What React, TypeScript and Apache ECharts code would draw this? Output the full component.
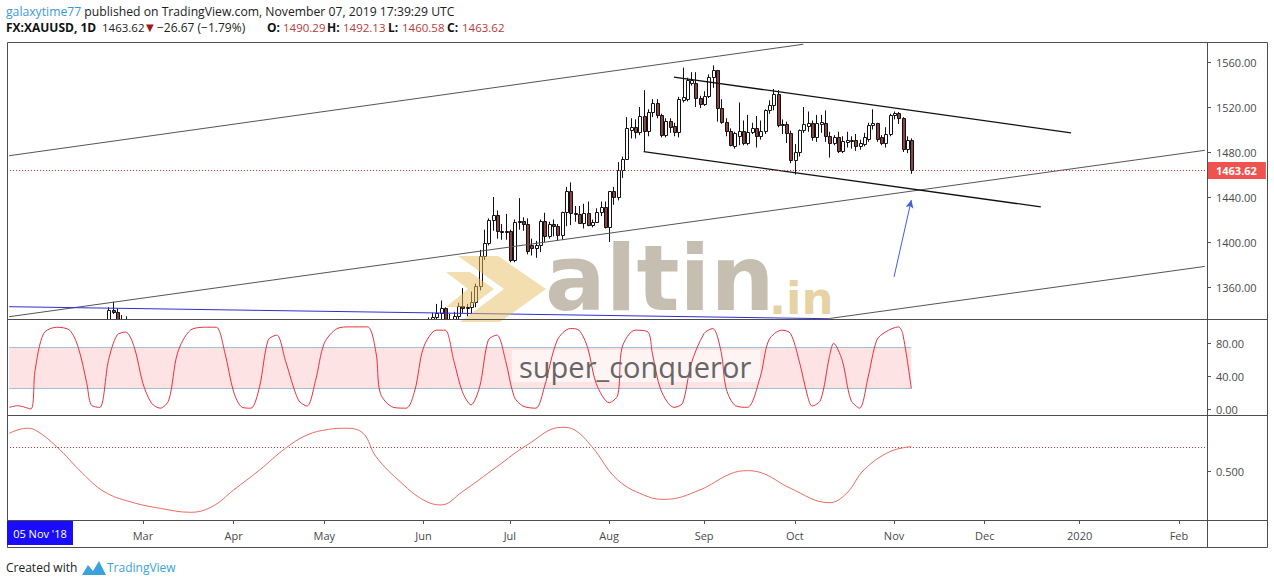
import React, { useEffect, useRef } from "react";
import * as echarts from "echarts";

// ---------- categories (trading days) ----------
const FIRST_DAY = "2019-01-17";
const LAST_DAY = "2020-02-11";
const HOLIDAYS = ["2019-04-19"];
const LABEL_FROM = "2019-03";
const MONTHS = ["Jan", "Feb", "Mar", "Apr", "May", "Jun", "Jul", "Aug", "Sep", "Oct", "Nov", "Dec"];

// ---------- OHLC [open, high, low, close] ----------
const ohlcJan = [
  [1293, 1296, 1287, 1292], [1292, 1297, 1280, 1282], [1282, 1284, 1277, 1280], [1280, 1286, 1276, 1283],
  [1283, 1285, 1278, 1282], [1282, 1284, 1276, 1280], [1280, 1303, 1278, 1298], [1298, 1305, 1296, 1303],
  [1303, 1313, 1302, 1311], [1311, 1321, 1308, 1319], [1319, 1326, 1312, 1321],
];
const ohlcFeb = [
  [1321, 1325, 1310, 1317], [1317, 1318, 1307, 1311], [1311, 1317, 1307, 1314], [1314, 1315, 1304, 1306],
  [1306, 1313, 1302, 1309], [1309, 1317, 1307, 1314], [1314, 1314, 1302, 1308], [1308, 1314, 1306, 1311],
  [1311, 1316, 1303, 1306], [1306, 1316, 1302, 1314], [1314, 1323, 1310, 1322], [1322, 1329, 1319, 1327],
  [1327, 1342, 1322, 1340], [1340, 1347, 1336, 1338], [1338, 1341, 1320, 1324], [1324, 1335, 1322, 1329],
  [1329, 1334, 1320, 1328], [1328, 1330, 1318, 1328], [1328, 1329, 1316, 1319], [1319, 1321, 1310, 1313],
];
const ohlcMar = [
  [1313, 1314, 1290, 1293], [1293, 1296, 1281, 1287], [1287, 1290, 1280, 1286], [1286, 1290, 1282, 1286],
  [1286, 1290, 1280, 1286], [1286, 1300, 1284, 1299], [1299, 1299, 1287, 1291], [1291, 1299, 1289, 1297],
  [1297, 1311, 1296, 1309], [1309, 1310, 1293, 1295], [1295, 1304, 1294, 1302], [1302, 1306, 1298, 1301],
  [1301, 1309, 1299, 1306], [1306, 1314, 1298, 1313], [1313, 1320, 1302, 1307], [1307, 1316, 1303, 1313],
  [1313, 1324, 1311, 1322], [1322, 1323, 1311, 1314], [1314, 1317, 1307, 1310], [1310, 1311, 1288, 1290],
  [1290, 1297, 1286, 1292],
];
const ohlcApr = [
  [1292, 1293, 1285, 1287], [1287, 1293, 1284, 1291], [1291, 1296, 1286, 1292], [1292, 1295, 1286, 1291],
  [1291, 1296, 1285, 1292], [1292, 1301, 1290, 1299], [1299, 1307, 1297, 1303], [1303, 1310, 1301, 1307],
  [1307, 1308, 1290, 1293], [1293, 1297, 1288, 1290], [1290, 1295, 1286, 1288], [1288, 1289, 1273, 1275],
  [1275, 1278, 1270, 1273], [1273, 1278, 1266, 1276], [1276, 1279, 1271, 1274], [1274, 1276, 1266, 1272],
  [1272, 1278, 1269, 1276], [1276, 1281, 1272, 1279], [1279, 1289, 1274, 1286], [1286, 1286, 1278, 1280],
  [1280, 1287, 1278, 1283],
];
const ohlcMay = [
  [1283, 1286, 1271, 1277], [1277, 1279, 1267, 1270], [1270, 1282, 1268, 1279], [1279, 1283, 1274, 1281],
  [1281, 1287, 1279, 1285], [1285, 1287, 1279, 1281], [1281, 1288, 1279, 1284], [1284, 1290, 1281, 1286],
  [1286, 1302, 1283, 1301], [1301, 1303, 1294, 1296], [1296, 1300, 1292, 1297], [1297, 1298, 1284, 1286],
  [1286, 1288, 1275, 1277], [1277, 1280, 1274, 1277], [1277, 1278, 1270, 1273], [1273, 1277, 1271, 1274],
  [1274, 1286, 1272, 1283], [1283, 1287, 1281, 1285], [1285, 1286, 1282, 1284], [1284, 1285, 1274, 1278],
  [1278, 1284, 1277, 1280], [1280, 1290, 1278, 1287], [1287, 1306, 1284, 1305],
];
const ohlcJun = [
  [1305, 1329, 1304, 1327], [1327, 1333, 1320, 1325], [1325, 1337, 1321, 1333], [1333, 1345, 1328, 1337],
  [1337, 1348, 1330, 1341], [1341, 1342, 1323, 1327], [1327, 1336, 1320, 1327], [1327, 1338, 1326, 1334],
  [1334, 1346, 1330, 1343], [1343, 1359, 1337, 1341], [1341, 1345, 1334, 1342], [1342, 1356, 1336, 1347],
  [1347, 1363, 1342, 1361], [1361, 1393, 1357, 1388], [1388, 1411, 1384, 1399], [1399, 1421, 1397, 1420],
  [1420, 1440, 1410, 1424], [1424, 1428, 1403, 1410], [1410, 1416, 1402, 1409], [1409, 1425, 1402, 1410],
];
const ohlcJul = [
  [1410, 1411, 1382, 1384], [1384, 1420, 1382, 1418], [1418, 1439, 1411, 1419], [1419, 1422, 1410, 1416],
  [1416, 1421, 1389, 1392], [1397, 1403, 1388, 1395], [1395, 1401, 1386, 1397], [1397, 1420, 1391, 1419],
  [1419, 1426, 1400, 1405], [1405, 1418, 1403, 1416], [1416, 1420, 1405, 1414], [1414, 1416, 1401, 1406],
  [1406, 1427, 1402, 1427], [1427, 1449, 1414, 1445], [1445, 1453, 1415, 1426], [1426, 1432, 1418, 1425],
  [1425, 1432, 1416, 1417], [1417, 1434, 1412, 1426], [1426, 1436, 1414, 1415], [1415, 1420, 1413, 1418],
  [1418, 1430, 1417, 1427], [1427, 1436, 1423, 1431], [1431, 1436, 1412, 1413],
];
const ohlcAug = [
  [1413, 1445, 1400, 1445], [1445, 1449, 1433, 1440], [1440, 1471, 1437, 1464], [1464, 1476, 1457, 1474],
  [1474, 1511, 1474, 1501], [1500, 1510, 1492, 1502], [1502, 1509, 1492, 1498], [1498, 1520, 1495, 1512],
  [1512, 1535, 1480, 1499], [1499, 1518, 1494, 1516], [1516, 1527, 1511, 1524], [1524, 1527, 1510, 1513],
  [1513, 1514, 1493, 1495], [1495, 1510, 1493, 1508], [1508, 1510, 1497, 1502], [1503, 1506, 1494, 1498],
  [1498, 1529, 1493, 1527], [1526, 1555, 1524, 1529], [1527, 1546, 1525, 1544], [1541, 1551, 1539, 1544],
  [1541, 1551, 1520, 1528], [1528, 1530, 1519, 1523],
];
const ohlcSep = [
  [1523, 1534, 1521, 1530], [1530, 1549, 1528, 1547], [1547, 1557, 1537, 1553], [1553, 1553, 1507, 1519],
  [1519, 1527, 1505, 1507], [1507, 1510, 1494, 1499], [1499, 1501, 1485, 1486], [1485, 1498, 1483, 1497],
  [1494, 1524, 1486, 1499], [1499, 1508, 1486, 1488], [1488, 1513, 1486, 1498], [1498, 1506, 1496, 1501],
  [1501, 1512, 1484, 1494], [1494, 1508, 1491, 1499], [1499, 1518, 1496, 1517], [1517, 1526, 1514, 1522],
  [1522, 1536, 1517, 1532], [1532, 1535, 1502, 1504], [1504, 1509, 1496, 1505], [1505, 1507, 1488, 1497],
  [1497, 1499, 1470, 1473],
];
const ohlcOct = [
  [1473, 1487, 1460, 1480], [1480, 1500, 1476, 1500], [1500, 1520, 1497, 1505], [1503, 1516, 1498, 1506],
  [1506, 1508, 1490, 1493], [1493, 1513, 1489, 1506], [1505, 1513, 1497, 1507], [1506, 1517, 1489, 1494],
  [1494, 1498, 1475, 1488], [1488, 1495, 1486, 1493], [1493, 1498, 1479, 1481], [1481, 1494, 1479, 1490],
  [1489, 1498, 1484, 1491], [1490, 1494, 1483, 1491], [1491, 1496, 1481, 1485], [1485, 1491, 1482, 1488],
  [1487, 1497, 1485, 1493], [1492, 1506, 1489, 1504], [1504, 1518, 1500, 1505.5], [1505.5, 1506, 1489, 1492],
  [1493, 1495, 1486, 1488], [1488, 1502, 1484, 1496], [1496, 1514, 1494, 1513],
];
const ohlcNov = [
  [1512.6, 1516, 1509, 1514.4], [1515, 1515.5, 1505, 1510], [1510, 1511, 1480, 1483], [1483, 1494, 1479, 1491],
  [1490.29, 1492.13, 1460.58, 1463.62],
];

// ---------- oscillators [bar index, value] ----------
const stochPoints = [
  [0, 2], [2, 4], [5, 0], [6, 47], [8, 92], [11, 99.5], [14, 96], [16, 75], [18, 31], [19, 5], [21, 2],
  [23, 59], [25, 90], [27, 93.7], [29, 75], [31, 31], [33, 7], [35, 1], [37, 11], [39, 68], [42, 96],
  [46, 99.6], [48, 99.6], [50, 68], [52, 21], [54, 2], [56, 1], [58, 27], [60, 84], [62, 90], [64, 59],
  [67, 11], [69, 3.6], [71, 35], [73, 80], [76, 98], [79, 100], [83, 100], [85, 68], [86, 19], [89, 2],
  [92, 1], [94, 23], [96, 75], [99, 96], [101, 96], [103, 59], [105, 21], [107, 5], [109, 27], [111, 84],
  [113, 90], [115, 59], [117, 15], [119, 3.6], [122, 1], [124, 27], [127, 84], [130, 98], [132, 96],
  [134, 75], [136, 31], [139, 7.7], [141, 17], [142, 75], [145, 96], [148, 93.7], [149, 68], [151, 23],
  [154, 2], [156, 7], [158, 55], [161, 92], [163, 98], [165, 68], [166, 27], [168, 5], [171, 2], [174, 39],
  [176, 84], [179, 96], [181, 92], [183, 59], [185, 15], [186, 3.6], [188, 11], [190, 63], [191, 80],
  [193, 59], [195, 11], [197, 1], [199, 39], [201, 84], [203, 93.7], [206, 100], [207, 92], [209, 25],
];
const stochBand = [25, 75];
const cyclePoints = [
  [0, 0.814], [4, 0.856], [6, 0.842], [11, 0.703], [17, 0.481], [22, 0.328], [28, 0.244], [35, 0.189],
  [42, 0.156], [47, 0.203], [52, 0.342], [58, 0.508], [64, 0.689], [69, 0.8], [74, 0.847], [78, 0.856],
  [82, 0.814], [85, 0.619], [91, 0.397], [96, 0.258], [100, 0.217], [105, 0.328], [113, 0.536], [120, 0.717],
  [128, 0.864], [131, 0.842], [135, 0.703], [141, 0.425], [148, 0.286], [152, 0.264], [160, 0.342],
  [167, 0.475], [171, 0.503], [175, 0.475], [181, 0.356], [190, 0.236], [194, 0.314], [198, 0.508],
  [204, 0.661], [209, 0.703],
];
const cycleLevel = 0.7;

// ---------- drawings [bar index, price] ----------
const channelUpper = [[0, 1476.7], [184, 1575.8]];
const channelMiddle = [[0, 1333.6], [277, 1481.5]];
const channelLower = [[190, 1332], [277, 1378.3]];
const blueLine = [[0, 1342.5], [190, 1331.8]];
const descTop = [[154, 1546.6], [246, 1497.0]];
const descBottom = [[147, 1480.4], [239, 1431.2]];
const arrowFrom = [205, 1369];
const arrowTo = [209, 1437.3];

// ---------- axis ticks ----------
const priceTicks = [1360, 1400, 1440, 1480, 1520, 1560];
const stochTicks = [0, 40, 80];
const cycleTicks = [0.5];

function buildDays(): string[] {
  const out: string[] = [];
  const [y0, m0, d0] = FIRST_DAY.split("-").map(Number);
  const [y1, m1, d1] = LAST_DAY.split("-").map(Number);
  const d = new Date(Date.UTC(y0, m0 - 1, d0));
  const end = Date.UTC(y1, m1 - 1, d1);
  while (d.getTime() <= end) {
    const wd = d.getUTCDay();
    const s = d.toISOString().slice(0, 10);
    if (wd !== 0 && wd !== 6 && HOLIDAYS.indexOf(s) < 0) out.push(s);
    d.setUTCDate(d.getUTCDate() + 1);
  }
  return out;
}

export default function App() {
  const ref = useRef<HTMLDivElement>(null);
  useEffect(() => {
    if (!ref.current) return;
    const chart = echarts.init(ref.current, null, { renderer: "svg" });
    const days = buildDays();
    const ohlc = [...ohlcJan, ...ohlcFeb, ...ohlcMar, ...ohlcApr, ...ohlcMay, ...ohlcJun, ...ohlcJul, ...ohlcAug, ...ohlcSep, ...ohlcOct, ...ohlcNov];
    const candleData = ohlc.map((d, i) => [i, d[0], d[1], d[2], d[3]]);
    const lastClose = ohlc[ohlc.length - 1][3];
    const lastIdx = ohlc.length - 1;
    const isMonthStart = (i: number) =>
      i > 0 && days[i].slice(0, 7) !== days[i - 1].slice(0, 7) && days[i].slice(0, 7) >= LABEL_FROM;
    const fontFamily = "'Open Sans', 'DejaVu Sans', sans-serif";
    const axisText = { color: "#4a4a4a", fontSize: 11, fontFamily };

    const trend = (pts: number[][], color: string, width: number) => ({
      type: "line",
      xAxisIndex: 0,
      yAxisIndex: 0,
      data: pts,
      symbol: "none",
      silent: true,
      z: 4,
      lineStyle: { color, width },
    });

    const yBase = {
      position: "right",
      axisLine: { show: false },
      splitLine: { show: false },
    };

    const renderCandle = (_params: any, api: any) => {
      const i = api.value(0);
      const o = api.value(1);
      const h = api.value(2);
      const l = api.value(3);
      const c = api.value(4);
      const pO = api.coord([i, o]);
      const pC = api.coord([i, c]);
      const pH = api.coord([i, h]);
      const pL = api.coord([i, l]);
      const cx = Math.round(pO[0]);
      const top = Math.round(Math.min(pO[1], pC[1])) + 0.5;
      const bot = Math.round(Math.max(pO[1], pC[1])) + 0.5;
      const up = c >= o;
      return {
        type: "group",
        children: [
          { type: "line", shape: { x1: cx + 0.5, y1: pH[1], x2: cx + 0.5, y2: pL[1] }, style: { stroke: "#111", lineWidth: 1 } },
          {
            type: "rect",
            shape: { x: cx - 0.5, y: top, width: 3, height: Math.max(bot - top, 1) },
            style: { fill: up ? "#ffffff" : "#8b4444", stroke: "#111", lineWidth: 1 },
          },
        ],
      };
    };

    const option: any = {
      animation: false,
      backgroundColor: "#ffffff",
      grid: [
        { left: 7, top: 42, width: 1200, height: 277 },
        { left: 7, top: 319, width: 1200, height: 96 },
        { left: 7, top: 415, width: 1200, height: 105 },
      ],
      xAxis: [0, 1, 2].map((g) => ({
        type: "category",
        gridIndex: g,
        data: days,
        boundaryGap: true,
        axisLine: { show: false },
        splitLine: { show: false },
        axisTick:
          g === 2
            ? { show: true, interval: (i: number) => isMonthStart(i), alignWithLabel: true, length: 4, lineStyle: { color: "#555" } }
            : { show: false },
        axisLabel:
          g === 2
            ? {
                show: true,
                interval: (i: number) => isMonthStart(i),
                margin: 10,
                ...axisText,
                formatter: (v: string) => {
                  const m = Number(v.slice(5, 7));
                  return m === 1 ? v.slice(0, 4) : MONTHS[m - 1];
                },
              }
            : { show: false },
      })),
      yAxis: [
        {
          ...yBase,
          gridIndex: 0,
          min: 1331.56,
          max: 1577.78,
          axisTick: { show: true, customValues: priceTicks, length: 4, lineStyle: { color: "#555" } },
          axisLabel: { customValues: priceTicks, margin: 9, ...axisText, formatter: (v: number) => v.toFixed(2) },
        },
        {
          ...yBase,
          gridIndex: 1,
          min: -7.3,
          max: 109.6,
          axisTick: { show: true, customValues: stochTicks, length: 4, lineStyle: { color: "#555" } },
          axisLabel: { customValues: stochTicks, margin: 9, ...axisText, formatter: (v: number) => v.toFixed(2) },
        },
        {
          ...yBase,
          gridIndex: 2,
          min: 0.0917,
          max: 0.9667,
          axisTick: { show: true, customValues: cycleTicks, length: 4, lineStyle: { color: "#555" } },
          axisLabel: { customValues: cycleTicks, margin: 9, ...axisText, formatter: (v: number) => v.toFixed(3) },
        },
      ],
      series: [
        {
          type: "custom",
          xAxisIndex: 0,
          yAxisIndex: 0,
          data: candleData,
          encode: { x: 0, y: [1, 2, 3, 4] },
          renderItem: renderCandle,
          clip: true,
          silent: true,
          z: 3,
        },
        {
          type: "line",
          xAxisIndex: 0,
          yAxisIndex: 0,
          data: [],
          z: 4,
          silent: true,
          markLine: {
            silent: true,
            symbol: "none",
            data: [
              {
                yAxis: lastClose,
                lineStyle: { color: "#c73535", type: [1, 2], width: 1 },
                label: {
                  show: true,
                  position: "end",
                  distance: 1,
                  formatter: lastClose.toFixed(2),
                  color: "#ffffff",
                  fontWeight: "bold",
                  fontSize: 11,
                  fontFamily,
                  backgroundColor: "#ef5350",
                  padding: [3, 9, 3, 8],
                },
              },
              [
                { coord: [days[arrowFrom[0]], arrowFrom[1]], symbol: "none" },
                {
                  coord: [days[arrowTo[0]], arrowTo[1]],
                  symbol: "arrow",
                  symbolSize: [6, 8],
                  lineStyle: { color: "#3f5fe0", width: 1, type: "solid" },
                  label: { show: false },
                },
              ],
            ],
          },
        },
        trend(channelUpper, "#555555", 1),
        trend(channelMiddle, "#555555", 1),
        trend(channelLower, "#555555", 1),
        trend(blueLine, "#2f2fd0", 1),
        trend(descTop, "#111111", 1.3),
        trend(descBottom, "#111111", 1.3),
        {
          type: "line",
          xAxisIndex: 1,
          yAxisIndex: 1,
          data: [],
          z: 1,
          silent: true,
          markArea: {
            silent: true,
            itemStyle: { color: "#fde3e4" },
            data: [[{ coord: [0, stochBand[1]] }, { coord: [lastIdx, stochBand[0]] }]],
          },
          markLine: {
            silent: true,
            symbol: "none",
            label: { show: false },
            lineStyle: { color: "#a3bfd3", type: "solid", width: 1 },
            data: stochBand.map((v) => [{ coord: [0, v] }, { coord: [lastIdx, v] }]),
          },
        },
        {
          type: "line",
          xAxisIndex: 1,
          yAxisIndex: 1,
          data: stochPoints,
          smooth: 0.3,
          symbol: "none",
          z: 5,
          lineStyle: { color: "#e5323c", width: 1 },
        },
        {
          type: "line",
          xAxisIndex: 2,
          yAxisIndex: 2,
          data: cyclePoints,
          smooth: 0.4,
          symbol: "none",
          z: 5,
          lineStyle: { color: "#eb6a60", width: 1 },
          markLine: {
            silent: true,
            symbol: "none",
            label: { show: false },
            data: [{ yAxis: cycleLevel, lineStyle: { color: "#c73535", type: [1, 2], width: 1 } }],
          },
        },
      ],
      graphic: [
        // header
        {
          type: "text",
          left: 6,
          top: 5,
          z: 10,
          style: {
            text: "{u|galaxytime77} published on TradingView.com, November 07, 2019 17:39:29 UTC",
            fill: "#222",
            font: `12.2px ${fontFamily}`,
            rich: { u: { fill: "#3a9ad9", font: `12.2px ${fontFamily}` } },
          },
        },
        { type: "text", left: 6, top: 21, z: 10, style: { text: "FX:XAUUSD, 1D", fill: "#111", font: `bold 12px ${fontFamily}` } },
        { type: "text", left: 102, top: 21, z: 10, style: { text: "1463.62", fill: "#222", font: `11.5px ${fontFamily}` } },
        { type: "text", left: 146, top: 22, z: 10, style: { text: "▼", fill: "#a01818", font: `10px ${fontFamily}` } },
        { type: "text", left: 157, top: 21, z: 10, style: { text: "−26.67 (−1.79%)", fill: "#222", font: `12px ${fontFamily}` } },
        { type: "text", left: 267, top: 21, z: 10, style: { text: "O:", fill: "#111", font: `bold 12px ${fontFamily}` } },
        { type: "text", left: 283, top: 21, z: 10, style: { text: "1490.29", fill: "#b83a3a", font: `11.5px ${fontFamily}` } },
        { type: "text", left: 327, top: 21, z: 10, style: { text: "H:", fill: "#111", font: `bold 12px ${fontFamily}` } },
        { type: "text", left: 343, top: 21, z: 10, style: { text: "1492.13", fill: "#b83a3a", font: `11.5px ${fontFamily}` } },
        { type: "text", left: 388, top: 21, z: 10, style: { text: "L:", fill: "#111", font: `bold 12px ${fontFamily}` } },
        { type: "text", left: 402, top: 21, z: 10, style: { text: "1460.58", fill: "#b83a3a", font: `11.5px ${fontFamily}` } },
        { type: "text", left: 447, top: 21, z: 10, style: { text: "C:", fill: "#111", font: `bold 12px ${fontFamily}` } },
        { type: "text", left: 462, top: 21, z: 10, style: { text: "1463.62", fill: "#b83a3a", font: `11.5px ${fontFamily}` } },
        // frame
        { type: "rect", z: 9, shape: { x: 7.5, y: 42.5, width: 1260, height: 505 }, style: { fill: "none", stroke: "#4d4d4d", lineWidth: 1 } },
        { type: "line", z: 9, shape: { x1: 1207.5, y1: 42, x2: 1207.5, y2: 548 }, style: { stroke: "#4d4d4d", lineWidth: 1 } },
        { type: "line", z: 9, shape: { x1: 7, y1: 319.5, x2: 1268, y2: 319.5 }, style: { stroke: "#4d4d4d", lineWidth: 1 } },
        { type: "line", z: 9, shape: { x1: 7, y1: 415.5, x2: 1268, y2: 415.5 }, style: { stroke: "#4d4d4d", lineWidth: 1 } },
        { type: "line", z: 9, shape: { x1: 7, y1: 520.5, x2: 1268, y2: 520.5 }, style: { stroke: "#4d4d4d", lineWidth: 1 } },
        // date badge
        { type: "rect", z: 10, shape: { x: 7, y: 521, width: 66, height: 24 }, style: { fill: "#1a0dff" } },
        { type: "text", z: 11, x: 40, y: 533, style: { text: "05 Nov '18", fill: "#fff", font: `11px ${fontFamily}`, align: "center", verticalAlign: "middle" } },
        // watermark
        { type: "polygon", z: 8, shape: { points: [[458, 256], [498, 256], [546, 289], [500, 322], [460, 322], [504, 289]] }, style: { fill: "rgba(230, 190, 95, 0.5)" } },
        { type: "polygon", z: 8, shape: { points: [[446, 272], [470, 272], [494, 289], [470, 307], [446, 307], [468, 289]] }, style: { fill: "rgba(230, 190, 95, 0.5)" } },
        { type: "text", z: 8, x: 545, y: 323, style: { text: "altin", fill: "rgba(160, 148, 125, 0.6)", font: `bold 90px 'DejaVu Sans', sans-serif`, verticalAlign: "bottom" } },
        { type: "text", z: 8, x: 769, y: 321, style: { text: ".in", fill: "rgba(215, 180, 105, 0.6)", font: `bold 45px 'DejaVu Sans', sans-serif`, verticalAlign: "bottom" } },
        { type: "rect", z: 2, shape: { x: 512, y: 350, width: 248, height: 32 }, style: { fill: "rgba(255,255,255,0.6)" } },
        { type: "text", z: 8, x: 519, y: 366, style: { text: "super_conqueror", fill: "#666", font: `29px ${fontFamily}`, verticalAlign: "middle" } },
        // footer
        { type: "text", left: 6, top: 561, z: 10, style: { text: "Created with", fill: "#222", font: `12px ${fontFamily}` } },
        { type: "polygon", z: 10, shape: { points: [[82, 575], [88, 565], [93, 571], [99, 561], [106, 575]] }, style: { fill: "#3aa3dd" } },
        { type: "text", left: 107, top: 561, z: 10, style: { text: "TradingView", fill: "#3aa3dd", font: `12px ${fontFamily}` } },
      ],
    };
    chart.setOption(option);
    return () => chart.dispose();
  }, []);
  return <div ref={ref} style={{ position: "absolute", left: 0, top: 0, width: 1274, height: 586 }} />;
}
